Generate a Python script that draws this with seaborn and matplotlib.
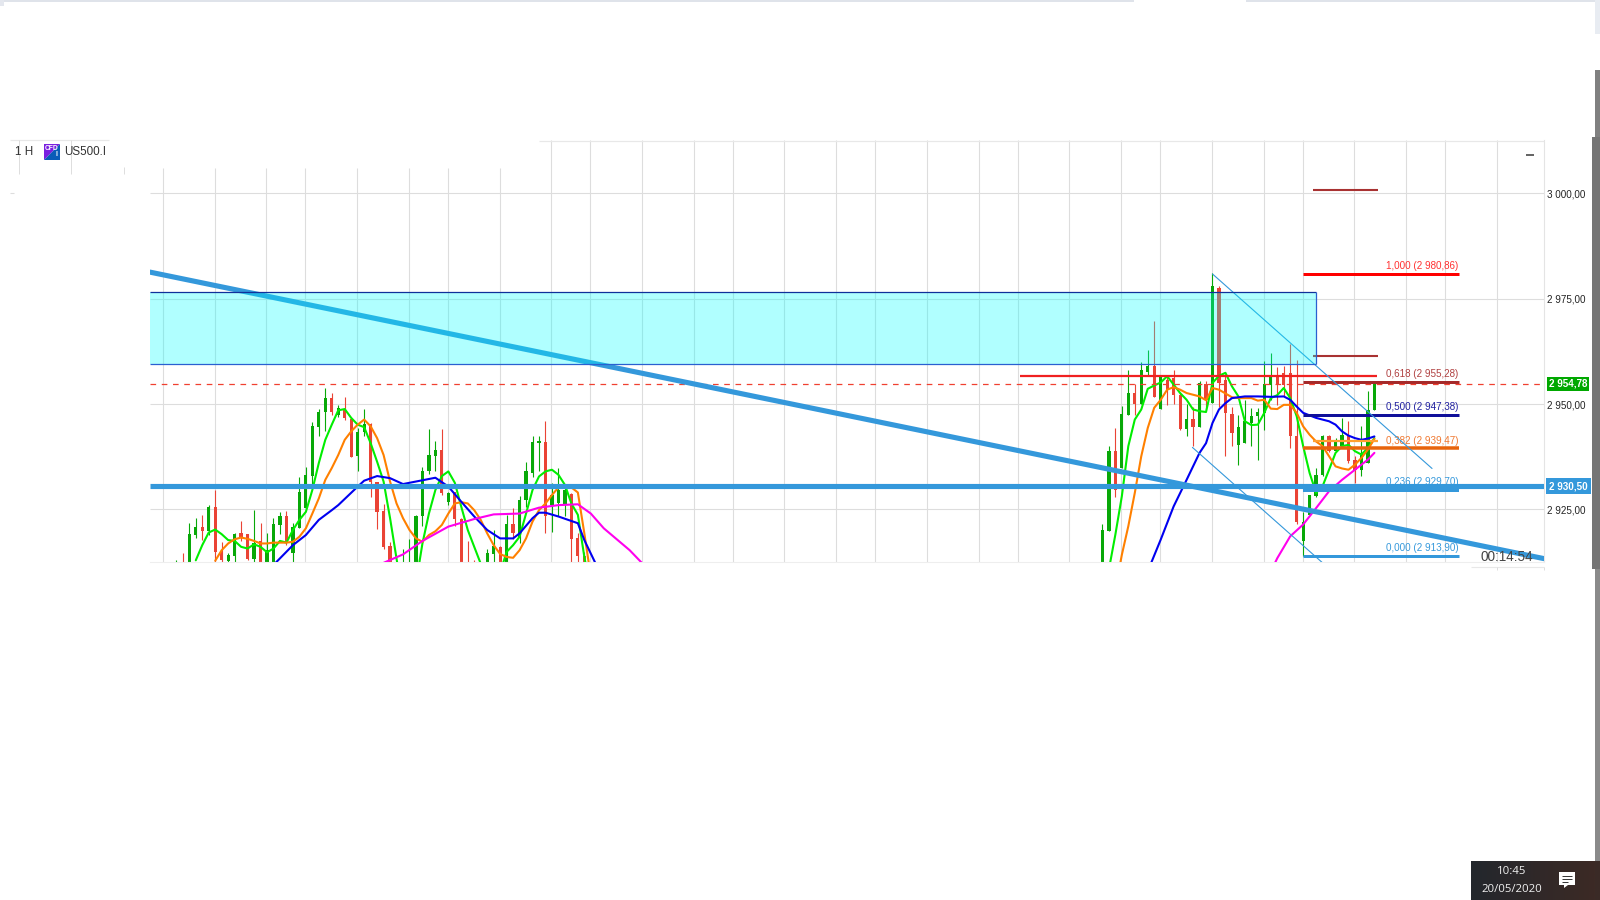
import numpy as np
import pandas as pd
import matplotlib
matplotlib.use("Agg")
import matplotlib.pyplot as plt
import seaborn as sns
from matplotlib.patches import Rectangle, Polygon

# candles, first block (bars -2..61)
left_open = [2905, 2911, 2908, 2918.9, 2920.8, 2919.8, 2925.6, 2914.9, 2912.7, 2913.9, 2919.3, 2919.1, 2913.2, 2917.5, 2910, 2910,
             2921.3, 2923.4, 2914.7, 2920.6, 2925.2, 2932.9, 2944.5, 2948, 2951.5, 2947.3, 2948.8, 2946.5, 2937.7, 2943.3, 2945.2, 2931.6,
             2924.6, 2916.3, 2905, 2905, 2905, 2910, 2923.5, 2934.1, 2937.7, 2939.1, 2926.7, 2929, 2922.6, 2911, 2911, 2905,
             2910, 2914.3, 2916.1, 2910, 2921.5, 2918.5, 2927.1, 2933.7, 2940.8, 2941, 2926, 2926.4, 2926, 2928.6, 2918.3, 2914]
left_close = [2911, 2906, 2919.1, 2920.8, 2919.8, 2925.6, 2914.8, 2912.9, 2914.1, 2919.1, 2918.1, 2913.2, 2916.9, 2910, 2915.3, 2921.5,
              2923.4, 2916.9, 2920.7, 2929, 2933.1, 2944.8, 2948.2, 2951.5, 2948, 2949.1, 2946.7, 2937.5, 2943.3, 2945.2, 2931.6, 2924.4,
              2916.1, 2910, 2910, 2911, 2911, 2923.5, 2934.1, 2937.9, 2939.1, 2928.8, 2928.8, 2922.6, 2909, 2908, 2908, 2910,
              2914.7, 2916.3, 2909, 2921.5, 2919.5, 2927.2, 2934, 2941, 2941.3, 2923.3, 2928.4, 2929.6, 2929.5, 2917.9, 2914, 2909]
left_high = [2912.9, 2914.7, 2921.7, 2922.9, 2923.7, 2926, 2929.6, 2917.2, 2914.7, 2919.4, 2922.2, 2919.1, 2924.8, 2921.7, 2919.4, 2922.9,
             2924.3, 2924.6, 2921.7, 2932.6, 2935, 2945.8, 2948.9, 2953.8, 2952.6, 2949.8, 2951.7, 2946.7, 2944.3, 2948.9, 2945.5, 2931.6,
             2926.2, 2917.3, 2911, 2915.6, 2917.9, 2923.7, 2935, 2944.1, 2941.3, 2944.1, 2929, 2929.2, 2923, 2917.5, 2912.9, 2911,
             2915.7, 2920.2, 2916.4, 2923.7, 2925.2, 2928.2, 2936.2, 2942.5, 2942.5, 2946, 2931.2, 2934.7, 2930.8, 2928.8, 2919.3, 2914.9]
left_low = [2904, 2904, 2905, 2918.1, 2917.7, 2919, 2912, 2912, 2912, 2912, 2917.5, 2912.9, 2912, 2908, 2908, 2908,
            2919.1, 2916.5, 2912, 2920.6, 2925.2, 2931, 2942.5, 2943.7, 2947.3, 2946.8, 2946.3, 2937.5, 2934, 2942.5, 2927.9, 2920.4,
            2915.7, 2908, 2905, 2905, 2905, 2908, 2921, 2933.5, 2934, 2928.4, 2926, 2921, 2907, 2906, 2906, 2905,
            2908, 2912.5, 2908, 2908, 2918, 2917, 2925.5, 2932.6, 2934, 2919.3, 2919.7, 2923.5, 2923.4, 2912, 2912, 2908]

# candles, second block (bars 141..183)
right_open = [2910, 2919.8, 2938.8, 2934.8, 2947.5, 2952.6, 2950.1, 2957.7, 2959.1, 2948.8, 2955.8, 2956.2, 2952.1, 2944.1, 2946.5,
              2944.5, 2954.8, 2950.2, 2977.5, 2955.8, 2947.6, 2940.3, 2940.7, 2945.5, 2947.1, 2947.9, 2954.6, 2956.7, 2957.4, 2957.4,
              2942.5, 2917.4, 2923.7, 2928.2, 2933.1, 2942.3, 2938.8, 2940, 2942.7, 2936.6, 2934.4, 2936, 2948.5]
right_close = [2920, 2938.9, 2929.7, 2947.7, 2952.6, 2950.1, 2958.1, 2959.1, 2951.6, 2956.7, 2953.4, 2952.2, 2944.1, 2946.5, 2944.5,
               2955, 2951, 2977.9, 2955, 2947.9, 2943.1, 2944.5, 2945.9, 2947.2, 2948, 2954.7, 2956.7, 2954.6, 2954.6, 2942.3,
               2921.9, 2921.9, 2928.5, 2933.2, 2942.3, 2938.8, 2941.1, 2942.7, 2936.4, 2934.4, 2938.4, 2948.5, 2954.7]
right_high = [2921.6, 2940, 2944.3, 2949.6, 2958.1, 2954.8, 2960, 2962.9, 2969.6, 2956.7, 2956.6, 2958.1, 2952.5, 2950, 2949.4,
              2955.4, 2955.4, 2981.1, 2977.9, 2957, 2949.4, 2947.5, 2951, 2949.1, 2949.1, 2960.1, 2962.1, 2958.9, 2959.1, 2964.3,
              2960.5, 2924.4, 2928.5, 2934.8, 2942.7, 2942.7, 2941.9, 2946.7, 2945.9, 2937.6, 2944.7, 2953, 2955]
right_low = [2908, 2919.8, 2928, 2934.8, 2947.5, 2947.3, 2950.1, 2956.6, 2951.6, 2948.8, 2949.8, 2950, 2943.9, 2942.5, 2940,
             2944.5, 2948.5, 2950.2, 2949.4, 2937.6, 2940, 2935.6, 2940.7, 2940, 2936.6, 2943.9, 2951, 2949.8, 2951.8, 2939.6,
             2921.6, 2914, 2923.7, 2927.9, 2933, 2938.5, 2938.8, 2940, 2936, 2931.3, 2933, 2936, 2948.5]
left_bars = list(range(-2, 62))
right_bars = list(range(141, 184))

# moving averages
green_a_x = list(range(1, 63))
green_a = [2912.9, 2916.5, 2919.5, 2920.2, 2919.1, 2917.7, 2917.5, 2916.1, 2915.7, 2916.7, 2916.1, 2914.8, 2915.7, 2917.5, 2917.1, 2920.1,
           2922.5, 2924.4, 2929.6, 2936, 2941.5, 2945.1, 2948.5, 2948.8, 2946.7, 2945.1, 2944.5, 2940.7, 2936.3, 2931.6, 2922.9, 2913.3,
           2904, 2901, 2907.4, 2916.9, 2924, 2929.6, 2932.9, 2934, 2931.3, 2925.6, 2920.1, 2916.1, 2912.1, 2907, 2906, 2910,
           2914.9, 2916.5, 2918.5, 2924, 2929.6, 2932.8, 2934, 2934.4, 2933.2, 2930.8, 2926.4, 2923.7, 2913.7, 2906]
green_b_x = list(range(142, 184))
green_b = [2910.7, 2919, 2928.1, 2940, 2946.3, 2948.7, 2953.6, 2954.4, 2955.1, 2956.6, 2954.6, 2952.6, 2951, 2948.7, 2948.3, 2948.1,
           2955, 2956.7, 2957.4, 2954.2, 2951.8, 2945.9, 2945, 2945.1, 2947.9, 2951.4, 2952.1, 2953.8, 2951.4, 2947.1, 2940, 2933.6,
           2928.9, 2930.5, 2934.4, 2938.4, 2940, 2940.3, 2938.8, 2938, 2939.6, 2941.9]
orange_a_x = list(range(4, 63))
orange_a = [2912.8, 2915.3, 2916.9, 2917.9, 2918.3, 2918, 2917.5, 2916.9, 2916.9, 2917.1, 2917.1, 2917.1, 2917.3, 2918.5, 2920.5, 2924,
            2927.6, 2932, 2934.8, 2937.9, 2941.5, 2943.5, 2945.1, 2946.3, 2944.7, 2941.9, 2937.9, 2931.6, 2926.4, 2922.9, 2920.1, 2918.1,
            2917.3, 2918.9, 2919.8, 2921.3, 2924, 2926.4, 2926.7, 2926.4, 2924.8, 2922.5, 2919.3, 2916.5, 2914.4, 2913.7, 2913.5, 2915.3,
            2918.1, 2922.1, 2924.8, 2926.4, 2928.4, 2930.2, 2930.4, 2930.2, 2929, 2919.3, 2909]
orange_b_x = list(range(143, 184))
orange_b = [2906, 2914.2, 2921, 2928.9, 2937.6, 2944.3, 2949.1, 2951, 2953.4, 2954, 2953.4, 2952.6, 2952.2, 2951.8, 2950.9, 2953.8, 2953.4,
            2952.5, 2951.6, 2951.4, 2951.4, 2951.4, 2950.8, 2951, 2948.9, 2948.8, 2949.8, 2949.8, 2947.9, 2944.7, 2942.7, 2941.1, 2940,
            2937.6, 2935.2, 2934.7, 2934.4, 2935.6, 2937.2, 2939.2, 2941.7]
blue_a_x = [13, 16, 18, 20, 22, 23, 26, 27, 29, 31, 33, 35, 38, 40, 42, 44, 46, 48, 50, 51, 53, 54, 55, 57, 60, 61, 63]
blue_a = [2911.8, 2916.5, 2918.9, 2922.5, 2924.8, 2926, 2930.4, 2931.8, 2932.9, 2932.4, 2931, 2931.6, 2932.5, 2930.4, 2926.8, 2923.3,
          2920.1, 2918.1, 2918.1, 2919.3, 2922.9, 2924.2, 2924.2, 2923.3, 2921.7, 2917.7, 2911.3]
blue_b_x = [148, 150, 152, 154, 156, 157, 158, 159, 160, 161, 163, 165, 167, 169, 170, 171, 172, 174, 176, 177, 178, 179, 180, 181, 182, 183]
blue_b = [2910.3, 2917.8, 2925.7, 2932, 2938.4, 2940.7, 2945.5, 2948.7, 2950.2, 2951.4, 2951.8, 2951.8, 2951.7, 2951.8, 2951, 2949.4,
          2947.9, 2946.7, 2945.9, 2945.1, 2943.5, 2942.5, 2941.9, 2941.5, 2941.8, 2942.3]
magenta_a_x = [30, 33, 36, 40, 44, 47, 51, 54, 57, 60, 62, 64, 68, 70]
magenta_a = [2912.3, 2914.3, 2917.5, 2920.9, 2922.7, 2923.8, 2924, 2925.4, 2926, 2926.2, 2924, 2920.5, 2915.3, 2912.1]
magenta_b_x = [166, 168, 170, 172, 174, 176, 178, 180, 182, 183]
magenta_b = [2907, 2913.4, 2918.6, 2921.4, 2925.3, 2929.3, 2932, 2934.4, 2936.8, 2938.4]

# price axis
price_ticks = [3000, 2975, 2950, 2925]
price_labels = ["3 000,00", "2 975,00", "2 950,00", "2 925,00"]
grid_bars = [-4, 4, 12, 18, 26, 34, 40, 48, 56, 62, 70, 78, 84, 92, 100, 106, 114, 122, 128, 136, 144, 150, 158, 166, 172, 180, 188, 194, 202]

# fibonacci levels
fib_prices = [2980.86, 2955.28, 2947.38, 2939.47, 2929.70, 2913.90]
fib_labels = ["1,000 (2 980,86)", "0,618 (2 955,28)", "0,500 (2 947,38)", "0,382 (2 939,47)", "0,236 (2 929,70)", "0,000 (2 913,90)"]
fib_colors = ["#ff0000", "#a52a2a", "#10109a", "#e8640c", "#3498db", "#3498db"]
fib_text_colors = ["#ff3030", "#b04040", "#2020a0", "#f07830", "#3498db", "#3498db"]
fib_widths = [3, 3, 3, 3.5, 4, 3]

last_price = 2954.78
support_price = 2930.50
box_top, box_bottom = 2976.6, 2959.6
trend_x = [-6.07, 209.19]
trend_y = [2981.3, 2913.3]
channel_up_x = [158, 191.9]
channel_up_y = [2980.86, 2934.7]
channel_down_x = [154.9, 175]
channel_down_y = [2939.7, 2912.3]

sns.set_theme(style="white")
plt.rcParams['font.family'] = ['Liberation Sans', 'DejaVu Sans']
GRID = "#dddddd"
GREEN = "#08a808"
RED = "#ea4335"

fig = plt.figure(figsize=(16, 9), dpi=100)
ax = fig.add_axes([150 / 1600, (900 - 562) / 900, 1394 / 1600, 422 / 900])
ax.set_xlim(-6.07, 209.19)
ax.set_ylim(2912.5, 3012.66)
ax.set_xticks([])
ax.yaxis.tick_right()
ax.set_yticks(price_ticks)
ax.set_yticklabels(price_labels, fontsize=7.1, color="#222222")
ax.tick_params(axis='y', length=0, pad=2.0)

sns.despine(ax=ax, left=True, top=True, right=False, bottom=False)
ax.spines['right'].set_color("#e4e4e4")
ax.spines['bottom'].set_color("#eeeeee")
ax.spines['right'].set_linewidth(0.8)
ax.spines['bottom'].set_linewidth(0.8)

# grid, the header hides the upper part on the left
for b in grid_bars:
    top = 3006.1 if b < 55 else 3012.66
    ax.vlines(b - 0.1, 2912.5, top, color=GRID, lw=0.8, zorder=1)
ax.hlines(price_ticks, -6.07, 209.19, color=GRID, lw=0.8, zorder=1)
ax.hlines(3012.5, 54, 209.19, color="#e8e8e8", lw=0.9, zorder=1)

# candles
for bars, o, h, l, c in [(left_bars, left_open, left_high, left_low, left_close),
                         (right_bars, right_open, right_high, right_low, right_close)]:
    o = np.array(o)
    c = np.array(c)
    colors = [GREEN if cl >= op else RED for op, cl in zip(o, c)]
    ax.vlines(bars, l, h, colors=colors, lw=0.8, zorder=2)
    ax.bar(bars, np.abs(c - o), bottom=np.minimum(o, c), width=0.5, color=colors, linewidth=0, zorder=2)

# moving averages
ma_lines = [(green_a_x, green_a, "#00ee00"), (green_b_x, green_b, "#00ee00"),
            (orange_a_x, orange_a, "#ff8000"), (orange_b_x, orange_b, "#ff8000"),
            (blue_a_x, blue_a, "#0000f0"), (blue_b_x, blue_b, "#0000f0"),
            (magenta_a_x, magenta_a, "#ff00ee"), (magenta_b_x, magenta_b, "#ff00ee")]
for xs, ys, col in ma_lines:
    sns.lineplot(x=xs, y=ys, color=col, linewidth=1.5, ax=ax, estimator=None, sort=False, zorder=3)

# fib levels
for price, text, col, tcol, w in zip(fib_prices, fib_labels, fib_colors, fib_text_colors, fib_widths):
    ax.annotate(text, (196, price), xytext=(0, 5.5), textcoords="offset points", ha="right", va="center",
                fontsize=7.1, color=tcol, zorder=3.5, annotation_clip=False)
    ax.hlines(price, 172, 196, color=col, lw=w * 0.72, zorder=4)

# drawn levels
ax.hlines(2956.6, 128.3, 183.4, color="#f02020", lw=1.6, zorder=4)
ax.hlines(2961.4, 173.5, 183.5, color="#a83232", lw=1.5, zorder=4)
ax.hlines(3000.8, 173.5, 183.5, color="#a83232", lw=1.5, zorder=4)
ax.hlines(2941.3, 173.5, 183.5, color="#ffa030", lw=1.6, zorder=4)
ax.hlines(last_price, -6.07, 209.19, color="#f04030", lw=0.9, linestyles=(0, (4.5, 4.5)), zorder=4)
ax.hlines(support_price, -6.07, 209.19, color="#3498db", lw=3.7, zorder=4.5)
sns.lineplot(x=trend_x, y=trend_y, color="#3498db", linewidth=3.7, ax=ax, estimator=None, zorder=5)
sns.lineplot(x=channel_up_x, y=channel_up_y, color="#3498db", linewidth=0.8, ax=ax, estimator=None, zorder=5)
sns.lineplot(x=channel_down_x, y=channel_down_y, color="#3498db", linewidth=0.8, ax=ax, estimator=None, zorder=5)

# supply zone
ax.add_patch(Rectangle((-6.07, box_bottom), 180.07, box_top - box_bottom, facecolor="#00ffff", alpha=0.31, linewidth=0, zorder=6))
ax.hlines(box_top, -6.07, 174, color="#10309a", lw=0.9, zorder=6)
ax.hlines(box_bottom, -6.07, 174, color="#2a60d0", lw=0.9, zorder=6)
ax.vlines(174, box_bottom, box_top, color="#2a60d0", lw=0.9, zorder=6)

# price flags on the axis
flag = ax.get_yaxis_transform()
ax.text(1.0035, last_price, "2 954,78", transform=flag, fontsize=7.1, color="white", fontweight="bold", va="center", ha="left",
        bbox=dict(facecolor="#00a800", edgecolor="none", pad=1.5), zorder=7)
ax.text(1.0035, support_price, "2 930,50", transform=flag, fontsize=7.1, color="white", fontweight="bold", va="center", ha="left",
        bbox=dict(facecolor="#3498db", edgecolor="none", pad=2.2), zorder=7)

# screen furniture in pixel coordinates
over = fig.add_axes([0, 0, 1, 1], facecolor="none")
over.set_axis_off()
grad = np.linspace(0, 1, 64).reshape(1, -1, 1)
taskbar = np.array([0x23, 0x27, 0x2d]) / 255 * (1 - grad) + np.array([0x3c, 0x2a, 0x25]) / 255 * grad
over.imshow(taskbar, extent=(1471, 1595, 900, 861), aspect="auto", zorder=1)
over.set_xlim(0, 1600)
over.set_ylim(900, 0)

over.add_patch(Rectangle((0, 0), 1134, 2, color="#dfe3ea", lw=0))
over.add_patch(Rectangle((1246, 0), 354, 2, color="#dfe3ea", lw=0))
over.add_patch(Rectangle((0, 0), 4, 6, color="#e4e7ee", lw=0))
over.add_patch(Rectangle((1595, 0), 5, 34, color="#e8ecf2", lw=0))
over.add_patch(Rectangle((1595, 70), 5, 67, color="#808080", lw=0))
over.add_patch(Rectangle((1591.5, 137), 8.5, 432, color="#757575", lw=0))
over.add_patch(Rectangle((1595, 569), 5, 292, color="#8a8a8a", lw=0))
over.add_patch(Rectangle((1595, 861), 5, 39, color="#3a2a26", lw=0))

over.hlines(140, 10, 109, color="#e8e8e8", lw=0.9)
over.vlines([19.4, 71.4], 140, 174, color=GRID, lw=0.7)
over.vlines(123.5, 167, 174, color=GRID, lw=0.7)
over.hlines(193, 10, 14, color=GRID, lw=0.8)
over.hlines(567, 1471, 1544, color="#e8e8e8", lw=0.8)
over.vlines([1497, 1544], 567, 570, color=GRID, lw=0.7)

over.text(15, 152, "1 H", fontsize=8.4, color="#333333", va="center", ha="left")
over.add_patch(Polygon([(44, 144), (60, 144), (44, 160)], color="#7a1fe0", lw=0))
over.add_patch(Polygon([(60, 144), (60, 160), (44, 160)], color="#0a5cb8", lw=0))
over.text(52, 149, "CFD", fontsize=4.8, color="white", fontweight="bold", va="center", ha="center")
over.text(56.5, 155, "I", fontsize=4.8, color="white", fontweight="bold", va="center", ha="center")
over.text(64, 152, "US500.I", fontsize=8.4, color="#333333", va="center", ha="left")
over.add_patch(Rectangle((1525.5, 154), 8.5, 2.2, color="#666666", lw=0))
over.text(1506.5, 557, "00:14:54", fontsize=9.8, color="#444444", va="center", ha="center", zorder=8)

over.text(1512, 871, "10:45", fontsize=8.2, color="#f0f0f0", family=["Open Sans", "DejaVu Sans"], va="center", ha="center", zorder=3)
over.text(1512, 889, "20/05/2020", fontsize=8.2, color="#f0f0f0", family=["Open Sans", "DejaVu Sans"], va="center", ha="center", zorder=3)
over.add_patch(Polygon([(1559, 872), (1575, 872), (1575, 885), (1568, 885), (1564, 888), (1564, 885), (1559, 885)], color="white", lw=0, zorder=3))
over.hlines([875.5, 878.5, 881.5], 1562, [1572, 1572, 1568], color="#333333", lw=0.7, zorder=4)

fig.savefig("out.png", dpi=100)
